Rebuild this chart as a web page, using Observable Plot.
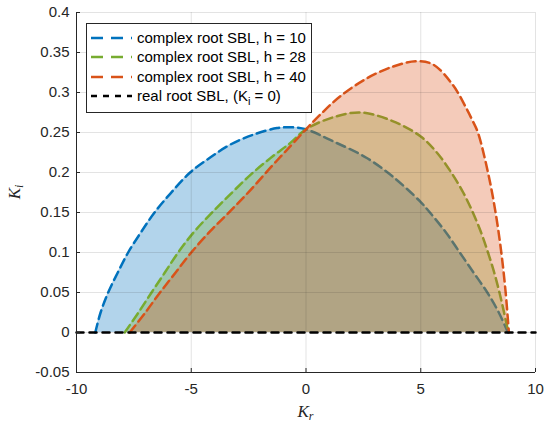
<!DOCTYPE html>
<html><head><meta charset="utf-8">
<script src="https://cdn.jsdelivr.net/npm/d3@7"></script>
<script src="https://cdn.jsdelivr.net/npm/@observablehq/plot@0.6"></script>
<style>
body{margin:0;background:#fff;}
#wrap{position:relative;width:550px;height:426px;font-family:"Liberation Sans",Arial,Helvetica,sans-serif;}
#legend{position:absolute;left:86px;top:23px;width:224px;height:88px;border:1px solid #262626;background:#fff;font-size:15px;color:#000;}
.row{position:absolute;left:0;height:20px;width:224px;}
.row svg{position:absolute;left:3px;top:4px;}
.row span{position:absolute;left:50px;top:1px;white-space:nowrap;line-height:18px;}
.row sub{font-size:11px;vertical-align:-4px;line-height:0;}
</style></head>
<body><div id="wrap"></div>
<script>
// h = 10
const kr10 = [-9.18,-8.95,-8.62,-8.2,-7.75,-7.22,-6.6,-5.9,-5.05,-4.16,-3.29,-2.27,-1.26,-0.6,0,1.18,2.63,3.84,5,5.4,6.1,6.7,7.3,7.9,8.4,8.8];
const ki10 = [0,0.025,0.05,0.075,0.1,0.124,0.15,0.174,0.2,0.219,0.235,0.2475,0.2555,0.2565,0.254,0.239,0.2185,0.1935,0.163,0.15,0.125,0.1,0.075,0.05,0.025,0];
// h = 28
const kr28 = [-7.9,-7.3,-6.73,-6.15,-5.57,-4.9,-4.16,-3.29,-2.42,-1.55,-0.68,0,1.18,2.4,3.8,5,5.7,6.33,6.85,7.27,7.63,7.93,8.2,8.43,8.63,8.82];
const ki28 = [0,0.025,0.05,0.075,0.1,0.125,0.148,0.173,0.197,0.218,0.237,0.254,0.269,0.275,0.264,0.245,0.225,0.2,0.175,0.15,0.125,0.1,0.075,0.05,0.025,0];
// h = 40
const kr40 = [-7.68,-7.0,-6.36,-5.68,-5.0,-4.16,-3.29,-2.42,-1.55,-0.68,0,0.61,1.48,2.64,3.8,4.8,5.54,6.41,6.99,7.27,7.49,7.93,8.26,8.51,8.70,8.84];
const ki40 = [0,0.025,0.05,0.075,0.1,0.127,0.152,0.178,0.206,0.233,0.254,0.272,0.295,0.3175,0.3325,0.339,0.335,0.309,0.28,0.264,0.25,0.2,0.15,0.1,0.05,0];
// real root boundary (Ki = 0)
const krReal = [-10, 10];
const kiReal = [0, 0];

const seriesLabels = ["complex root SBL, h = 10","complex root SBL, h = 28","complex root SBL, h = 40"];
const realLabel = ["real root SBL, (K", "i", " = 0)"];
const colors = ["#0072BD","#77AC30","#D95319"];
const xTicks = [-10,-5,0,5,10];
const yTicks = [-0.05,0,0.05,0.1,0.15,0.2,0.25,0.3,0.35,0.4];

const toRows = (xs, ys) => xs.map((x, i) => ({Kr: x, Ki: ys[i]}));
const series = [toRows(kr10, ki10), toRows(kr28, ki28), toRows(kr40, ki40)];
const realRows = toRows(krReal, kiReal);
const fmt = d => String(Math.round(d * 100) / 100);

const marks = [];
series.forEach((rows, i) => {
  marks.push(Plot.areaY(rows, {x: "Kr", y: "Ki", fill: colors[i], fillOpacity: 0.3, curve: "catmull-rom"}));
  marks.push(Plot.lineY(rows, {x: "Kr", y: "Ki", stroke: colors[i], strokeWidth: 2.5, strokeDasharray: "9,5", curve: "catmull-rom"}));
});
marks.push(
  Plot.gridX(xTicks, {stroke: "#262626", strokeOpacity: 0.13}),
  Plot.gridY(yTicks, {stroke: "#262626", strokeOpacity: 0.13}),
  Plot.lineY(realRows, {x: "Kr", y: "Ki", stroke: "#000", strokeWidth: 2.5, strokeDasharray: "7,6"}),
  Plot.ruleX([xTicks[0]], {stroke: "#262626", strokeWidth: 1}),
  Plot.ruleY([yTicks[0]], {stroke: "#262626", strokeWidth: 1}),
  Plot.axisX({ticks: xTicks, tickSize: -4, tickPadding: 15, tickFormat: fmt, label: null}),
  Plot.axisY({ticks: yTicks, tickSize: -4, tickPadding: 11, tickFormat: fmt, label: null})
);

const chart = Plot.plot({
  width: 550, height: 426,
  marginLeft: 76, marginRight: 15, marginTop: 12, marginBottom: 54,
  style: {fontFamily: "'Liberation Sans', Arial, Helvetica, sans-serif", fontSize: "15px", color: "#262626", background: "#fff"},
  x: {domain: [xTicks[0], xTicks[xTicks.length - 1]]},
  y: {domain: [yTicks[0], yTicks[yTicks.length - 1]]},
  marks
});

const wrap = document.getElementById("wrap");
wrap.appendChild(chart);

// axis labels with italic subscripts
const svg = d3.select(chart);
const sx = chart.scale("x"), sy = chart.scale("y");
const xMid = (sx.apply(xTicks[0]) + sx.apply(xTicks[xTicks.length - 1])) / 2;
const yMid = (sy.apply(yTicks[0]) + sy.apply(yTicks[yTicks.length - 1])) / 2;
const xl = svg.append("text").attr("x", xMid).attr("y", 417).attr("text-anchor", "middle")
  .attr("font-family", "'Liberation Serif','Times New Roman',serif").attr("font-style", "italic")
  .attr("font-size", 17).attr("fill", "#262626");
xl.append("tspan").text("K");
xl.append("tspan").attr("font-size", 12).attr("dy", 3).text("r");
const yl = svg.append("text").attr("transform", `translate(20,${yMid}) rotate(-90)`).attr("text-anchor", "middle")
  .attr("font-family", "'Liberation Serif','Times New Roman',serif").attr("font-style", "italic")
  .attr("font-size", 17).attr("fill", "#262626");
yl.append("tspan").text("K");
yl.append("tspan").attr("font-size", 12).attr("dy", 3).text("i");

// legend
const legend = document.createElement("div");
legend.id = "legend";
const rowTops = [4, 23.3, 42.6, 62];
const entries = seriesLabels.map((t, i) => ({html: t, color: colors[i], dash: "12,8"}));
entries.push({html: `${realLabel[0]}<sub>${realLabel[1]}</sub>${realLabel[2]}`, color: "#000", dash: "6,6"});
entries.forEach((e, i) => {
  const row = document.createElement("div");
  row.className = "row";
  row.style.top = rowTops[i] + "px";
  row.innerHTML = `<svg width="42" height="12"><line x1="1" y1="6" x2="42" y2="6" stroke="${e.color}" stroke-width="2.5" stroke-dasharray="${e.dash}"/></svg><span>${e.html}</span>`;
  legend.appendChild(row);
});
wrap.appendChild(legend);
</script>
</body></html>
